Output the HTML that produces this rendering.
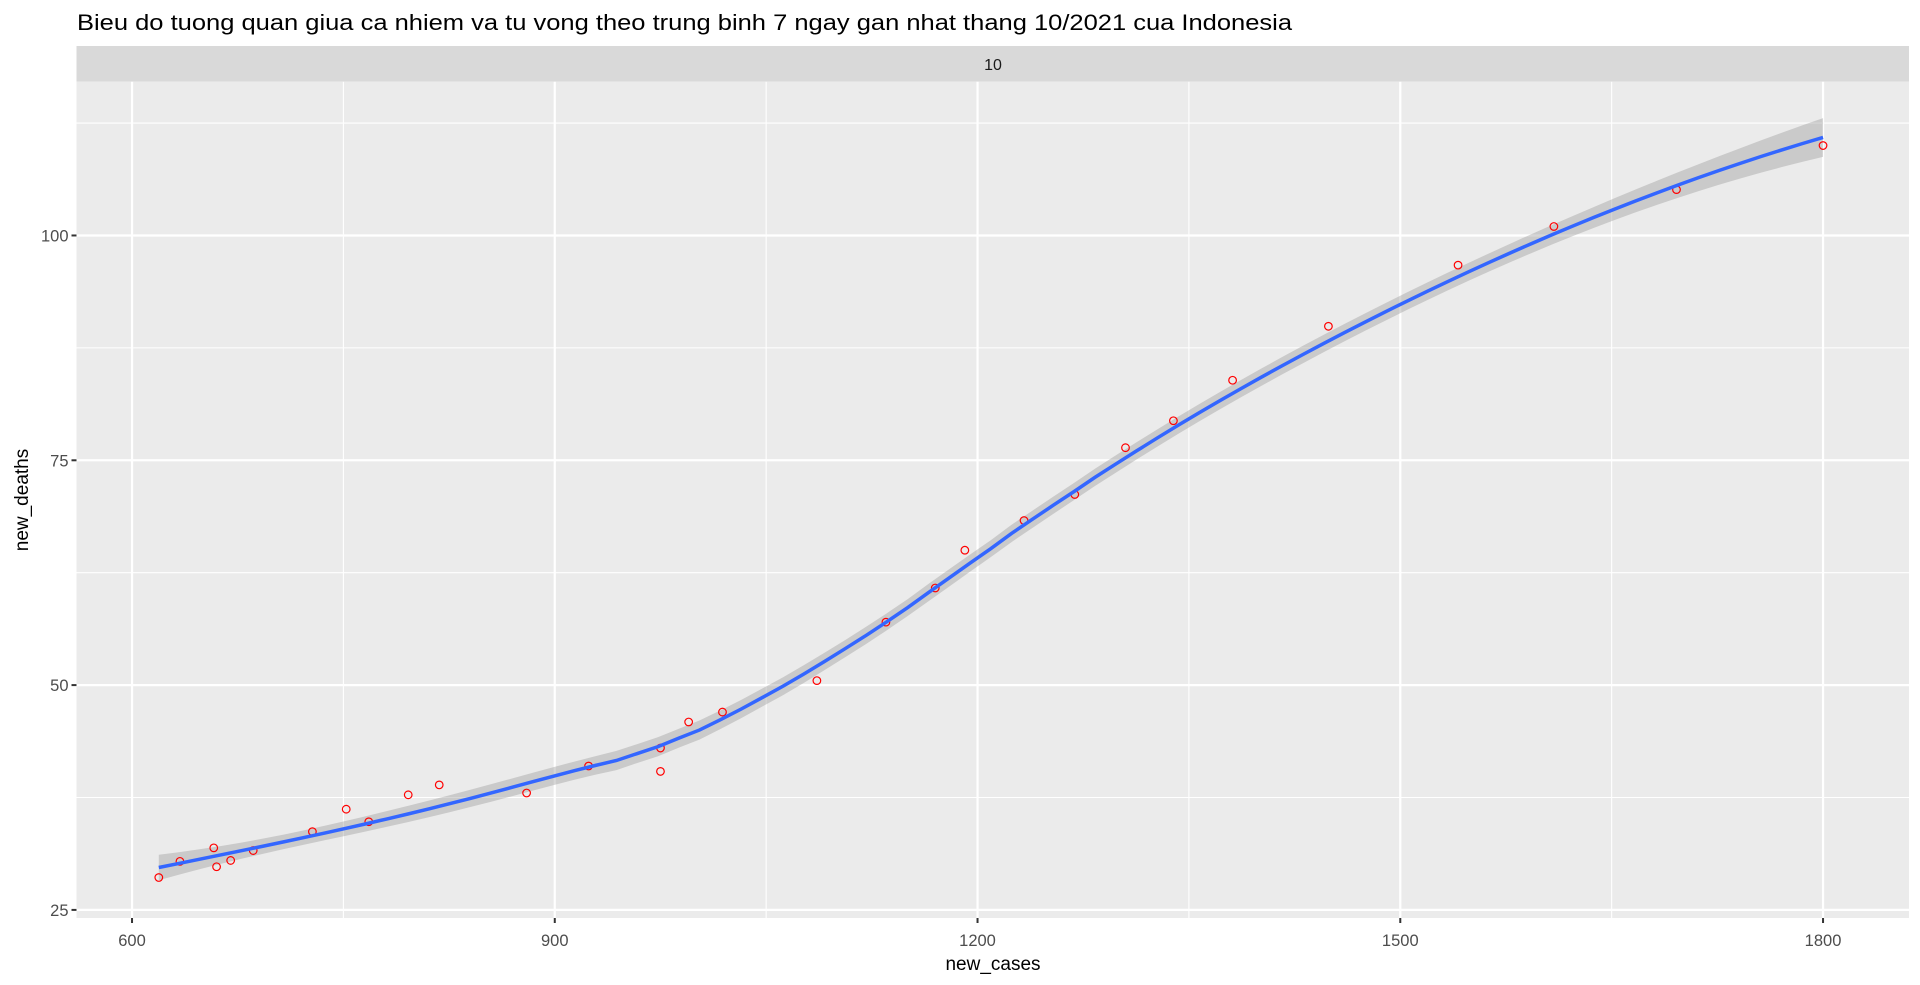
<!DOCTYPE html>
<html><head><meta charset="utf-8"><style>
html,body{margin:0;padding:0;background:#fff;}
svg{display:block;font-family:"Liberation Sans",sans-serif;}
</style></head><body>
<svg id="chart" width="1920" height="985" viewBox="0 0 1920 985">
<text x="77" y="30" font-size="22" fill="#000" textLength="1215" lengthAdjust="spacingAndGlyphs">Bieu do tuong quan giua ca nhiem va tu vong theo trung binh 7 ngay gan nhat thang 10/2021 cua Indonesia</text>
<rect x="76.5" y="46" width="1832.5" height="35.7" fill="#d9d9d9"/>
<text x="993" y="70" font-size="16" fill="#1a1a1a" text-anchor="middle">10</text>
<rect x="76.5" y="81.7" width="1832.5" height="836.3" fill="#ebebeb"/>
<g id="grid"></g>
<g id="band"></g>
<g id="pts"></g>
<g id="fit"></g>
<g id="axes"></g>
<text x="993" y="970" font-size="19" fill="#000" text-anchor="middle">new_cases</text>
<text x="0" y="0" font-size="19" fill="#000" text-anchor="middle" transform="translate(28,500) rotate(-90)">new_deaths</text>
</svg>
<script>
const newCases = [619,634,658,660,670,686,728,752,768,796,818,880,924,975,975,995,1019,1086,1135,1170,1191,1233,1269,1305,1339,1381,1449,1541,1609,1696,1800];
const newDeaths = [28.6,30.4,31.9,29.8,30.5,31.6,33.7,36.2,34.8,37.8,38.9,38.0,41.0,43.0,40.4,45.9,47.0,50.5,57.0,60.8,65.0,68.3,71.2,76.4,79.4,83.9,89.9,96.7,101.0,105.1,110.0];
const xTicks = [600,900,1200,1500,1800];
const xMinor = [750,1050,1350,1650];
const yTicks = [25,50,75,100];
const yMinor = [37.5,62.5,87.5,112.5];

const NS="http://www.w3.org/2000/svg";
const PL=76.5, PR=1909, PT=81.7, PB=918;
const X0=560.6, X1=1861, Y0=24.1, Y1=117.1;
const sx=v=>PL+(v-X0)/(X1-X0)*(PR-PL);
const sy=v=>PB-(v-Y0)/(Y1-Y0)*(PB-PT);
function mk(tag,attrs,parent){const e=document.createElementNS(NS,tag);for(const k in attrs)e.setAttribute(k,attrs[k]);parent.appendChild(e);return e;}
const grid=document.getElementById('grid'), axes=document.getElementById('axes');
xMinor.forEach(v=>{const l=mk('line',{x1:sx(v),x2:sx(v),y1:PT,y2:PB,stroke:'#fff','stroke-width':1.1},grid);

});
yMinor.forEach(v=>{const l=mk('line',{x1:PL,x2:PR,y1:sy(v),y2:sy(v),stroke:'#fff','stroke-width':1.1},grid);

});
xTicks.forEach(v=>{const l=mk('line',{x1:sx(v),x2:sx(v),y1:PT,y2:PB,stroke:'#fff','stroke-width':2.2},grid);


const t=mk('line',{x1:sx(v),x2:sx(v),y1:PB,y2:PB+5,stroke:'#333','stroke-width':2},axes);


const tx=mk('text',{x:sx(v),y:PB+28,'font-size':16.5,fill:'#4d4d4d','text-anchor':'middle'},axes);tx.textContent=v;

});
yTicks.forEach(v=>{const l=mk('line',{x1:PL,x2:PR,y1:sy(v),y2:sy(v),stroke:'#fff','stroke-width':2.2},grid);


const t=mk('line',{x1:PL-5,x2:PL,y1:sy(v),y2:sy(v),stroke:'#333','stroke-width':2},axes);


const tx=mk('text',{x:PL-8,y:sy(v)+6,'font-size':16.5,fill:'#4d4d4d','text-anchor':'end'},axes);tx.textContent=v;

});

const n=newCases.length, span=0.75, q=Math.floor(span*n);
function loessAt(x0){
  const d=newCases.map(x=>Math.abs(x-x0));const ds=[...d].sort((a,b)=>a-b);const h=ds[q-1]*1.0000001;
  const w=d.map(v=>{const u=v/h;return u<1?Math.pow(1-u*u*u,3):0;});
  const A=[[0,0,0],[0,0,0],[0,0,0]];
  for(let i=0;i<n;i++){const xi=newCases[i]-x0;const r=[1,xi,xi*xi];for(let a=0;a<3;a++)for(let b=0;b<3;b++)A[a][b]+=w[i]*r[a]*r[b];}
  const M=A.map((r,i)=>r.concat([i==0?1:0,i==1?1:0,i==2?1:0]));
  for(let c=0;c<3;c++){let p=c;for(let r=c+1;r<3;r++)if(Math.abs(M[r][c])>Math.abs(M[p][c]))p=r;[M[c],M[p]]=[M[p],M[c]];
    const dv=M[c][c];for(let k=0;k<6;k++)M[c][k]/=dv;
    for(let r=0;r<3;r++)if(r!=c){const f=M[r][c];for(let k=0;k<6;k++)M[r][k]-=f*M[c][k];}}
  const inv0=[M[0][3],M[0][4],M[0][5]];
  const l=[];for(let i=0;i<n;i++){const xi=newCases[i]-x0;l.push(w[i]*(inv0[0]+inv0[1]*xi+inv0[2]*xi*xi));}
  let f=0,s2=0;for(let i=0;i<n;i++){f+=l[i]*newDeaths[i];s2+=l[i]*l[i];}
  return {f,s2};
}
let rss=0;for(let i=0;i<n;i++){const r=newDeaths[i]-loessAt(newCases[i]).f;rss+=r*r;}
const sigma=Math.sqrt(rss/(n-5)), tq=2.05;
const xmin=Math.min(...newCases), xmax=Math.max(...newCases);
const up=[],lo=[],mid=[];
for(let k=0;k<=80;k++){const x=xmin+(xmax-xmin)*k/80;const r=loessAt(x);const se=sigma*Math.sqrt(r.s2);
  mid.push([sx(x),sy(r.f)]);up.push([sx(x),sy(r.f+tq*se)]);lo.push([sx(x),sy(r.f-tq*se)]);}
const bandPts=up.concat(lo.reverse()).map(p=>p.join(',')).join(' ');
const bp=mk('polygon',{points:bandPts,fill:'#999',opacity:0.4},document.getElementById('band'));


newCases.forEach((x,i)=>{const c=mk('circle',{cx:sx(x),cy:sy(newDeaths[i]),r:3.8,fill:'none',stroke:'#ff0000','stroke-width':1.2},document.getElementById('pts'));

});
const fl=mk('polyline',{points:mid.map(p=>p.join(',')).join(' '),fill:'none',stroke:'#3366ff','stroke-width':3.5},document.getElementById('fit'));


</script>
</body></html>
